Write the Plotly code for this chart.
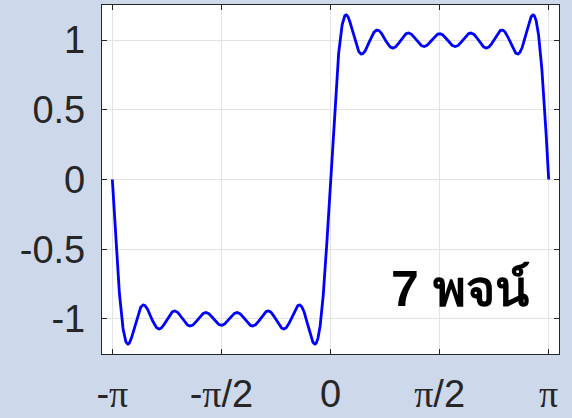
import numpy as np
import plotly.graph_objects as go

# Fourier partial sum of a square wave: 7 odd harmonics
harmonics = [1, 3, 5, 7, 9, 11, 13]
amplitudes = [4 / (np.pi * n) for n in harmonics]

PI = "<span style='font-family:Liberation Serif'>π</span>"
x_tick_vals = [-np.pi, -np.pi / 2, 0, np.pi / 2, np.pi]
x_tick_text = ["-" + PI, "-" + PI + "/2", "0", PI + "/2", PI]
y_tick_vals = [-1, -0.5, 0, 0.5, 1]
y_tick_text = ["-1", "-0.5", "0", "0.5", "1"]
label_text = "7 พจน์"

x = np.linspace(-np.pi, np.pi, 2001)
y = np.zeros_like(x)
for n, a in zip(harmonics, amplitudes):
    y += a * np.sin(n * x)

fig = go.Figure()
fig.add_trace(go.Scatter(x=x, y=y, mode="lines",
                         line=dict(color="#0000ff", width=2.8),
                         hoverinfo="skip", showlegend=False))

axis_common = dict(showline=True, linecolor="#262626", linewidth=1.3, mirror="ticks",
                   ticks="inside", ticklen=5, tickcolor="#262626", tickwidth=1,
                   showgrid=True, gridcolor="#e3e3e3", gridwidth=1, zeroline=False,
                   automargin=False,
                   tickfont=dict(family="Liberation Sans, Arial, sans-serif", size=38, color="#262626"))

fig.update_xaxes(range=[-3.29, 3.29], tickvals=x_tick_vals, ticktext=x_tick_text,
                 ticklabelstandoff=6, **axis_common)
fig.update_yaxes(range=[-1.251, 1.251], tickvals=y_tick_vals, ticktext=y_tick_text,
                 ticklabelstandoff=8, **axis_common)

fig.add_annotation(x=0.785, y=0.185, xref="paper", yref="paper", text="<b>" + label_text + "</b>",
                   showarrow=False, xanchor="center", yanchor="middle",
                   font=dict(family="Tahoma, Liberation Sans, Arial, sans-serif", size=50, color="#000000"))

fig.update_layout(width=572, height=418, margin=dict(l=102, r=13, t=5, b=64),
                  paper_bgcolor="#cdd9ea", plot_bgcolor="#ffffff")

fig.write_html("out.html", config={"displayModeBar": False},
               post_script="document.body.style.margin='0';")
